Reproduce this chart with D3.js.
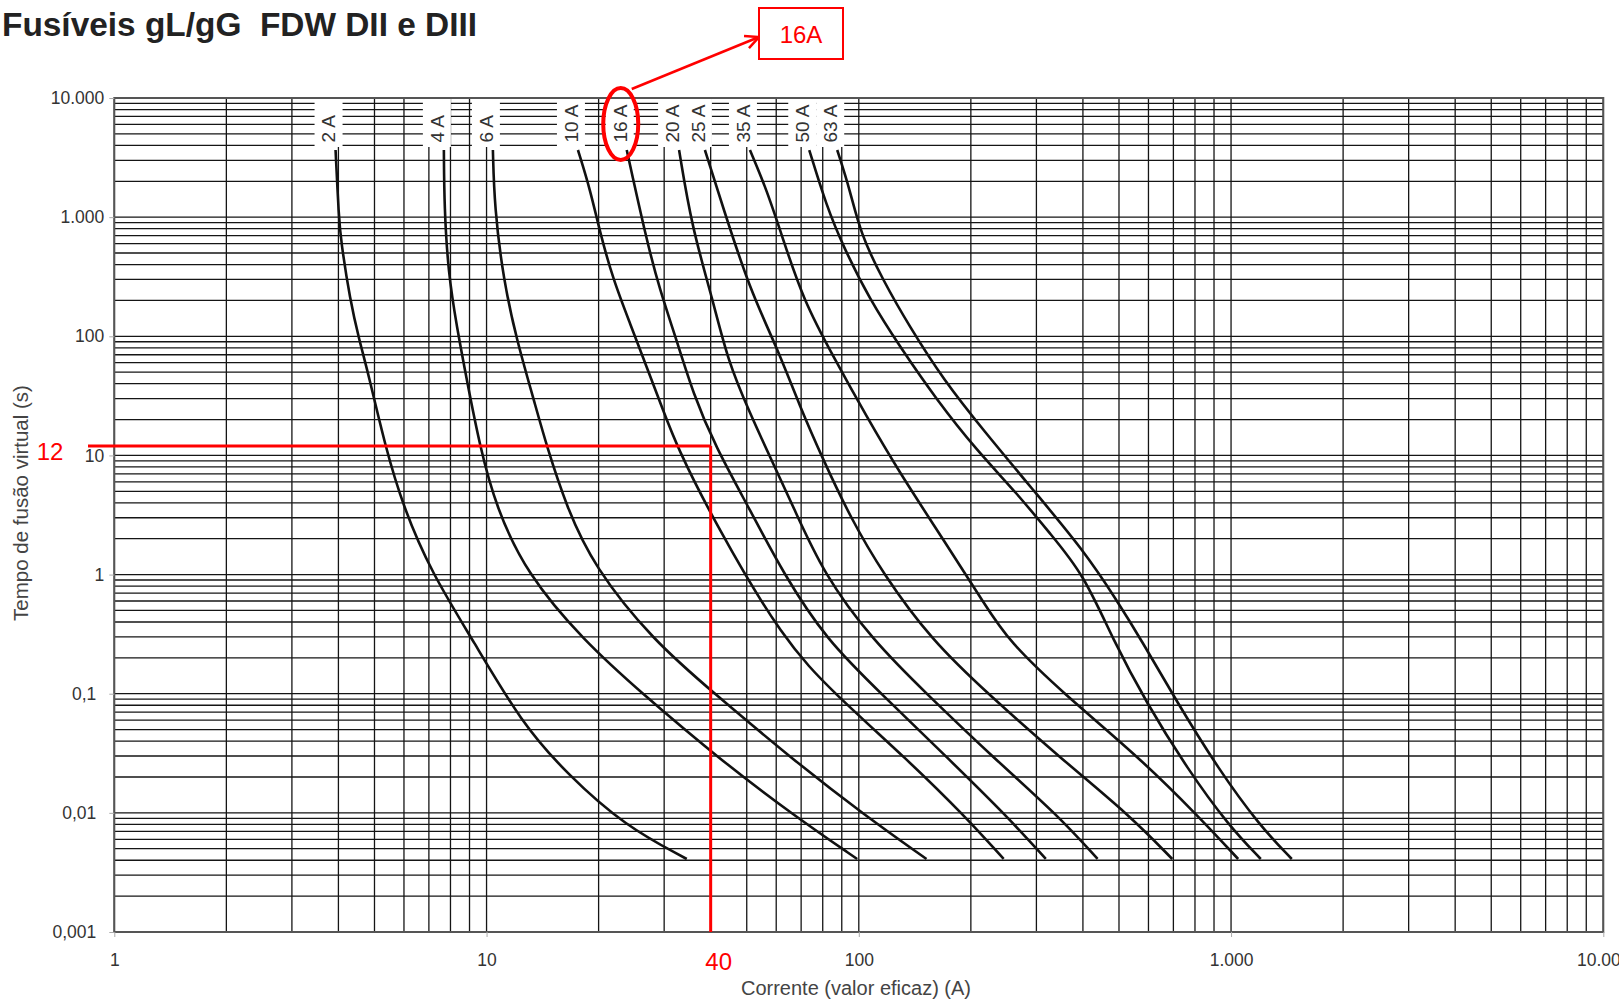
<!DOCTYPE html>
<html>
<head>
<meta charset="utf-8">
<script src="https://cdn.jsdelivr.net/npm/d3@7"></script>
<style>
  body { margin: 0; background: #fff; }
  svg { display: block; font-family: "Liberation Sans", Arial, sans-serif; }
</style>
</head>
<body>
<script>
// fuse ratings (labels in the top strip)
const fuseLabels = ["2 A", "4 A", "6 A", "10 A", "16 A", "20 A", "25 A", "35 A", "50 A", "63 A"];

// melting curves: [current (A), time (s)]
const fuse2A  = [[3.93,3660],[4.01,1000],[4.06,640],[4.3,200],[4.55,93],[4.81,49],[5.34,12],[5.97,3.7],[7.12,1.03],[9.2,0.28],[12.4,0.057],[16.5,0.021],[23.5,0.0078],[34.5,0.0041]];
const fuse4A  = [[7.68,3660],[7.7,1220],[7.89,340],[8.32,120],[8.85,43],[9.6,11.8],[10.6,3.7],[12.8,1.02],[18.2,0.28],[26.2,0.1],[42.4,0.028],[67,0.0095],[99,0.0041]];
const fuse6A  = [[10.4,3660],[10.5,1220],[11.1,297],[12.05,93],[13.4,29.2],[14.5,12],[16.4,3.7],[19.4,1.17],[28,0.28],[41,0.1],[66.5,0.028],[104,0.0095],[152,0.0041]];
const fuse10A = [[17.6,3660],[19.0,1690],[20.2,731],[21.9,297],[24.3,128],[26.9,55.6],[29.8,24.1],[32.4,12],[41.1,2.69],[62.7,0.28],[86,0.1],[135,0.028],[192,0.0095],[245,0.0041]];
const fuse16A = [[23.8,3660],[26.9,643],[29.2,245],[32.4,93],[35.9,33],[41.1,12],[51,3.5],[62.6,1.03],[82,0.28],[115,0.1],[175,0.028],[249,0.0095],[318,0.0041]];
const fuse20A = [[32.9,3660],[35.6,824],[40.5,204],[44.5,61.6],[51,22.6],[57.7,9.76],[66.7,3.71],[80.3,1.02],[109,0.28],[152,0.1],[233,0.028],[343,0.0095],[438,0.0041]];
const fuse25A = [[38.6,3660],[43.1,1228],[51,245],[60.2,81.7],[69.5,25.6],[80.3,9.15],[94.7,3.06],[116,1.02],[157,0.28],[222,0.1],[352,0.028],[535,0.0095],[695,0.0041]];
const fuse35A = [[51,3660],[56.6,1690],[62.7,643],[70.9,203],[85.4,67.4],[105,21.1],[129,7.07],[169,1.95],[220,0.537],[252,0.28],[355,0.1],[555,0.031],[814,0.0095],[1045,0.0041]];
const fuse50A = [[73.6,3660],[82,1223],[90.9,565],[107,203],[129,81.7],[162,29.2],[207,11.1],[266,4.81],[326,2.22],[401,1.02],[483,0.28],[591,0.085],[764,0.0233],[986,0.0078],[1202,0.0041]];
const fuse63A = [[87.5,3660],[94.7,1690],[101,731],[116,297],[137,120],[169,43],[216,16.3],[294,5.13],[401,1.61],[493,0.611],[575,0.28],[716,0.085],[925,0.0233],[1194,0.0078],[1456,0.0041]];

// axis ticks
const xTickValues = [1, 10, 100, 1000, 10000];
const xTickLabels = ["1", "10", "100", "1.000", "10.000"];
const yTickValues = [0.001, 0.01, 0.1, 1, 10, 100, 1000, 10000];
const yTickLabels = ["0,001", "0,01", "0,1", "1", "10", "100", "1.000", "10.000"];

// red reading marks
const markFuse = "16 A";
const markCurrent = 40;
const markTime = 12;

const curves = [fuse2A, fuse4A, fuse6A, fuse10A, fuse16A, fuse20A, fuse25A, fuse35A, fuse50A, fuse63A]
    .map((pts, i) => ({ label: fuseLabels[i], pts: pts }));

const svgWidth = 1619;
const svgHeight = 1000;
const red = "#ff0000";

const svg = d3.select("body")
    .append("svg")
    .attr("width", svgWidth)
    .attr("height", svgHeight);

const x = d3.scaleLog().domain([1, 10000]).range([114.3, 1603.3]);
const y = d3.scaleLog().domain([0.001, 10000]).range([932, 98]);

const plotLeft = x.range()[0], plotRight = x.range()[1];
const plotTop = y.range()[1], plotBottom = y.range()[0];

// title (two spaces kept as in the original)
svg.append("text")
    .attr("x", 2)
    .attr("y", 36)
    .attr("font-size", 34)
    .attr("font-weight", "bold")
    .attr("fill", "#222")
    .style("white-space", "pre")
    .attr("textLength", 475)
    .attr("lengthAdjust", "spacingAndGlyphs")
    .text("Fusíveis gL/gG  FDW DII e DIII");

// grid
const grid = svg.append("g")
    .attr("stroke", "#151515")
    .attr("stroke-width", 1.3);

grid.selectAll(".vx")
    .data(x.ticks())
    .join("line")
    .attr("x1", d => x(d)).attr("x2", d => x(d))
    .attr("y1", plotTop).attr("y2", plotBottom);

grid.selectAll(".hy")
    .data(y.ticks())
    .join("line")
    .attr("x1", plotLeft).attr("x2", plotRight)
    .attr("y1", d => y(d)).attr("y2", d => y(d));

svg.append("rect")
    .attr("x", plotLeft).attr("y", plotTop)
    .attr("width", plotRight - plotLeft).attr("height", plotBottom - plotTop)
    .attr("fill", "none")
    .attr("stroke", "#555")
    .attr("stroke-width", 2);

// axes
const yAxis = svg.append("g")
    .attr("transform", `translate(${plotLeft},0)`)
    .call(d3.axisLeft(y).tickValues(yTickValues)
        .tickFormat((d, i) => yTickLabels[i]).tickSize(5).tickPadding(5));

const xAxis = svg.append("g")
    .attr("transform", `translate(0,${plotBottom})`)
    .call(d3.axisBottom(x).tickValues(xTickValues)
        .tickFormat((d, i) => xTickLabels[i]).tickSize(5).tickPadding(17));

[xAxis, yAxis].forEach(ax => {
    ax.select(".domain").remove();
    ax.selectAll(".tick line").attr("stroke", "#aaa");
    ax.selectAll(".tick text")
        .attr("font-size", 17.5)
        .attr("font-family", "'Liberation Sans', Arial, sans-serif")
        .attr("fill", "#333");
});
// the decimal labels sit a bit further out in the original
yAxis.selectAll(".tick text").filter(d => d < 1).attr("x", -18);

// axis titles
svg.append("text")
    .attr("x", 856)
    .attr("y", 995)
    .attr("text-anchor", "middle")
    .attr("font-size", 20)
    .attr("fill", "#444")
    .text("Corrente (valor eficaz) (A)");

svg.append("text")
    .attr("transform", "translate(21,503) rotate(-90)")
    .attr("text-anchor", "middle")
    .attr("dy", "0.35em")
    .attr("font-size", 20.5)
    .attr("fill", "#444")
    .text("Tempo de fusão virtual (s)");

// curves
const line = d3.line()
    .x(d => x(d[0]))
    .y(d => y(d[1]))
    .curve(d3.curveBasis);

svg.append("g")
    .selectAll("path")
    .data(curves)
    .join("path")
    .attr("d", d => line(d.pts))
    .attr("fill", "none")
    .attr("stroke", "#111")
    .attr("stroke-width", 2.6);

// rating labels on white patches
const labelX = d => x(d.pts[0][0]) - 7;

const labels = svg.append("g")
    .selectAll("g")
    .data(curves)
    .join("g")
    .attr("transform", d => `translate(${labelX(d)},0)`);

labels.append("rect")
    .attr("x", -14).attr("y", plotTop + 1)
    .attr("width", 28).attr("height", 48)
    .attr("fill", "#fff");

labels.append("text")
    .attr("transform", "translate(0,142.5) rotate(-90)")
    .attr("dy", "0.36em")
    .attr("font-size", 19)
    .attr("fill", "#333")
    .text(d => d.label);

// red reading: current -> time for the marked fuse
const mx = x(markCurrent), my = y(markTime);

svg.append("line")
    .attr("x1", 88).attr("x2", mx)
    .attr("y1", my).attr("y2", my)
    .attr("stroke", red).attr("stroke-width", 3);

svg.append("line")
    .attr("x1", mx).attr("x2", mx)
    .attr("y1", my).attr("y2", plotBottom)
    .attr("stroke", red).attr("stroke-width", 3);

svg.append("text")
    .attr("x", 50).attr("y", my + 14)
    .attr("text-anchor", "middle")
    .attr("font-size", 24)
    .attr("fill", red)
    .text(markTime);

svg.append("text")
    .attr("x", mx + 8).attr("y", 970)
    .attr("text-anchor", "middle")
    .attr("font-size", 24)
    .attr("fill", red)
    .text(markCurrent);

const marked = curves.find(c => c.label === markFuse);
const ex = labelX(marked) + 1, ey = 124;

svg.append("ellipse")
    .attr("cx", ex).attr("cy", ey)
    .attr("rx", 17.5).attr("ry", 36)
    .attr("fill", "none")
    .attr("stroke", red).attr("stroke-width", 4);

// arrow to the callout box
const ax0 = ex + 11, ay0 = 89, ax1 = 759, ay1 = 37;
const ang = Math.atan2(ay1 - ay0, ax1 - ax0);
svg.append("line")
    .attr("x1", ax0).attr("y1", ay0)
    .attr("x2", ax1).attr("y2", ay1)
    .attr("stroke", red).attr("stroke-width", 2.5);

svg.append("path")
    .attr("d", `M${ax1 - 15 * Math.cos(ang - 0.45)},${ay1 - 15 * Math.sin(ang - 0.45)}L${ax1},${ay1}L${ax1 - 15 * Math.cos(ang + 0.45)},${ay1 - 15 * Math.sin(ang + 0.45)}`)
    .attr("fill", "none")
    .attr("stroke", red).attr("stroke-width", 2.5);

svg.append("rect")
    .attr("x", 759).attr("y", 8)
    .attr("width", 84).attr("height", 51)
    .attr("fill", "#fff")
    .attr("stroke", red).attr("stroke-width", 2);

svg.append("text")
    .attr("x", 801).attr("y", 43)
    .attr("text-anchor", "middle")
    .attr("font-size", 24)
    .attr("fill", red)
    .text(markFuse.replace(" ", ""));
</script>
</body>
</html>
